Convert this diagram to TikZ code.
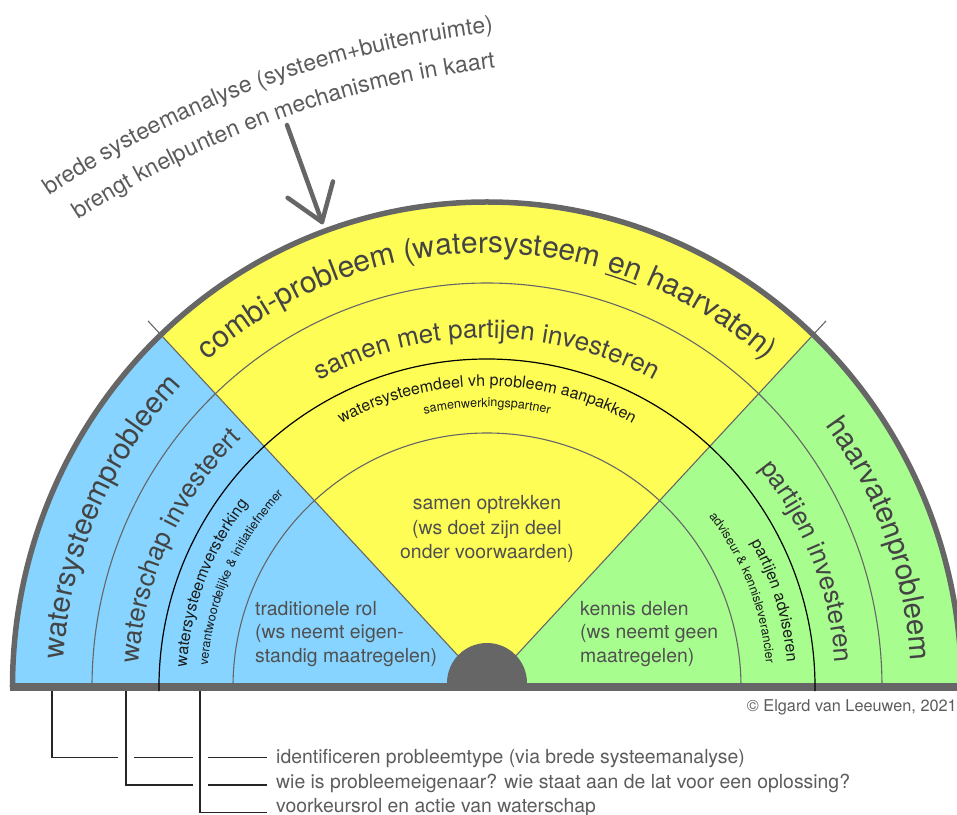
\documentclass[tikz,border=0pt]{standalone}
\usepackage{fontspec}
\setmainfont{TeX Gyre Heros}
\usetikzlibrary{decorations.text,calc}
\definecolor{wsblue}{HTML}{86D4FF}
\definecolor{wsyellow}{HTML}{FEFD56}
\definecolor{wsgreen}{HTML}{A8FD8F}
\definecolor{edge}{HTML}{666666}
\definecolor{ringtext}{HTML}{444444}
\definecolor{smalltext}{HTML}{1A1A1A}
\definecolor{innertext}{HTML}{505050}
\definecolor{notetext}{HTML}{5C5C5C}
\begin{document}
\begin{tikzpicture}[x=1pt,y=1pt,
  thinarc/.style={draw=edge,line width=1.1pt},
  blackarc/.style={draw=black,line width=1.2pt},
  innerline/.style={font=\fontsize{19.4}{24}\selectfont,text=innertext,inner sep=0pt},
  noteline/.style={font=\fontsize{19.4}{24}\selectfont,text=notetext,anchor=base west,inner sep=0pt},
  leader/.style={draw=black!85,line width=1.1pt},
]
\useasboundingbox (-487,-127) rectangle (470,687);
\coordinate (O) at (0,0);
% sector fills
\begin{scope}
\clip (0,0) -- (-900,0) -- (132.8:1200) -- cycle;
\fill[wsblue] (474.5,0) arc[start angle=0,end angle=180,x radius=474.5,y radius=485] -- cycle;
\end{scope}
\begin{scope}
\clip (0,0) -- (132.8:1200) -- (0,1200) -- (47.2:1200) -- cycle;
\fill[wsyellow] (474.5,0) arc[start angle=0,end angle=180,x radius=474.5,y radius=485] -- cycle;
\end{scope}
\begin{scope}
\clip (0,0) -- (47.2:1200) -- (900,0) -- cycle;
\fill[wsgreen] (474.5,0) arc[start angle=0,end angle=180,x radius=474.5,y radius=485] -- cycle;
\end{scope}
% ring boundaries
\draw[thinarc] (395,0) arc[start angle=0,end angle=180,x radius=395,y radius=404];
\draw[thinarc] (254,0) arc[start angle=0,end angle=180,radius=254];
\coordinate (tl) at (132.8:499);
\coordinate (tr) at (47.2:499);
\draw[thinarc] (O) -- (tl);
\draw[thinarc] (O) -- (tr);
% base band
\fill[edge] (-477,-4) rectangle (472,4);
\draw[blackarc] (328,-4) -- (328,0) arc[start angle=0,end angle=180,radius=328] -- (-328,-4);
% outer border
\draw[draw=edge,line width=5.5pt] (474.5,0) arc[start angle=0,end angle=180,x radius=474.5,y radius=485];
% hub
\fill[edge] (40,4) arc[start angle=0,end angle=180,radius=40] -- cycle;

% outer ring texts
\path[decorate,decoration={text along path,text align=center,
  text={|\fontsize{30}{30}\selectfont\color{ringtext}|combi-probleem (watersysteem en haarvaten)}}]
  (-424,0) arc[start angle=180,end angle=0,x radius=424,y radius=434];
\draw[ringtext,line width=1.3pt] (73.7:420.5 and 430.5) arc[start angle=73.7,end angle=69.2,x radius=420.5,y radius=430.5];
\path[decorate,decoration={text along path,
  text={|\fontsize{29.5}{29.5}\selectfont\color{ringtext}|watersysteemprobleem}}]
  (176.4:424 and 434) arc[start angle=176.4,end angle=90,x radius=424,y radius=434];
\path[decorate,decoration={text along path,text align=right,
  text={|\fontsize{29.5}{29.5}\selectfont\color{ringtext}|haarvatenprobleem}}]
  (88:424 and 434) arc[start angle=88,end angle=3.4,x radius=424,y radius=434];

% second ring texts
\path[decorate,decoration={text along path,text align=center,
  text={|\fontsize{26}{26}\selectfont\color{ringtext}|samen met partijen investeren}}]
  (-349,0) arc[start angle=180,end angle=0,radius=349];
\path[decorate,decoration={text along path,
  text={|\fontsize{26}{26}\selectfont\color{ringtext}|waterschap investeert}}]
  (176.2:349) arc[start angle=176.2,end angle=90,radius=349];
\path[decorate,decoration={text along path,text align=right,
  text={|\fontsize{26}{26}\selectfont\color{ringtext}|partijen investeren}}]
  (88:349) arc[start angle=88,end angle=3.9,radius=349];

% third ring texts
\path[decorate,decoration={text along path,text align=center,
  text={|\fontsize{16}{16}\selectfont\color{smalltext}|watersysteemdeel vh probleem aanpakken}}]
  (-301,0) arc[start angle=180,end angle=0,radius=301];
\path[decorate,decoration={text along path,text align=center,
  text={|\fontsize{12.5}{12.5}\selectfont\color{smalltext}|samenwerkingspartner}}]
  (-280,0) arc[start angle=180,end angle=0,radius=280];
\path[decorate,decoration={text along path,
  text={|\fontsize{16}{16}\selectfont\color{smalltext}|watersysteemversterking}}]
  (176.2:301) arc[start angle=176.2,end angle=90,radius=301];
\path[decorate,decoration={text along path,
  text={|\fontsize{12.5}{12.5}\selectfont\color{smalltext}|verantwoordelijke {\&} initiatiefnemer}}]
  (175.6:280) arc[start angle=175.6,end angle=90,radius=280];
\path[decorate,decoration={text along path,text align=right,
  text={|\fontsize{16}{16}\selectfont\color{smalltext}|partijen adviseren}}]
  (88:301) arc[start angle=88,end angle=4.7,radius=301];
\path[decorate,decoration={text along path,text align=right,
  text={|\fontsize{12.5}{12.5}\selectfont\color{smalltext}|adviseur {\&} kennisleverancier}}]
  (88:280) arc[start angle=88,end angle=4.9,radius=280];

% inner texts
\node[innerline,anchor=base west] (tr1) at (-232,72) {traditionele rol};
\node[innerline,anchor=base west] (tr2) at (-232,49) {(ws neemt eigen-};
\node[innerline,anchor=base west] (tr3) at (-232,25) {standig maatregelen)};
\node[innerline,anchor=base] (so1) at (0,178) {samen optrekken};
\node[innerline,anchor=base] (so2) at (0,153) {(ws doet zijn deel};
\node[innerline,anchor=base] (so3) at (0,129) {onder voorwaarden)};
\node[innerline,anchor=base west] (kd1) at (93,72) {kennis delen};
\node[innerline,anchor=base west] (kd2) at (93,49) {(ws neemt geen};
\node[innerline,anchor=base west] (kd3) at (93,25) {maatregelen)};

% copyright
\node[anchor=base east,inner sep=0pt,font=\fontsize{16.3}{16.3}\selectfont,text=notetext] (copy) at (470,-24) {© Elgard van Leeuwen, 2021};

% top curved annotation
\coordinate (C) at (123,-343);
\path[decorate,decoration={text along path,text align=center,
  text={|\fontsize{23}{23}\selectfont\color{notetext}|brede systeemanalyse (systeem+buitenruimte)}}]
  ($(C)+(135:1005)$) arc[start angle=135,end angle=85.6,radius=1005];
\path[decorate,decoration={text along path,text align=center,
  text={|\fontsize{23}{23}\selectfont\color{notetext}|brengt knelpunten en mechanismen in kaart}}]
  ($(C)+(135:969)$) arc[start angle=135,end angle=85.1,radius=969];
\coordinate (arrowtail) at (-200,562);
\coordinate (arrowtip) at (-165,465);
\draw[edge,line width=4.5pt,line cap=round] (arrowtail) -- (arrowtip);
\draw[edge,line width=4.5pt,line cap=round,line join=round]
  ($(arrowtip)!42pt!35:(arrowtail)$) -- (arrowtip) -- ($(arrowtip)!42pt!-35:(arrowtail)$);

% bottom notes
\node[noteline] (n1) at (-211,-76) {identificeren probleemtype (via brede systeemanalyse)};
\node[noteline] (n2) at (-211,-101) {wie is probleemeigenaar? wie staat aan de lat voor een oplossing?};
\node[noteline] (n3) at (-211,-125) {voorkeursrol en actie van waterschap};
\coordinate (b1) at (-435,-4);
\coordinate (b2) at (-361,-4);
\coordinate (b3) at (-287,-4);
\draw[leader] (b1) |- (-369,-70.3);
\draw[leader] (-353,-70.3) -- (-294,-70.3);
\draw[leader] (-279,-70.3) -- (-220,-70.3);
\draw[leader] (b2) |- (-294,-98);
\draw[leader] (-279,-98) -- (-220,-98);
\draw[leader] (b3) |- (-220,-125.7);
\end{tikzpicture}
\end{document}
